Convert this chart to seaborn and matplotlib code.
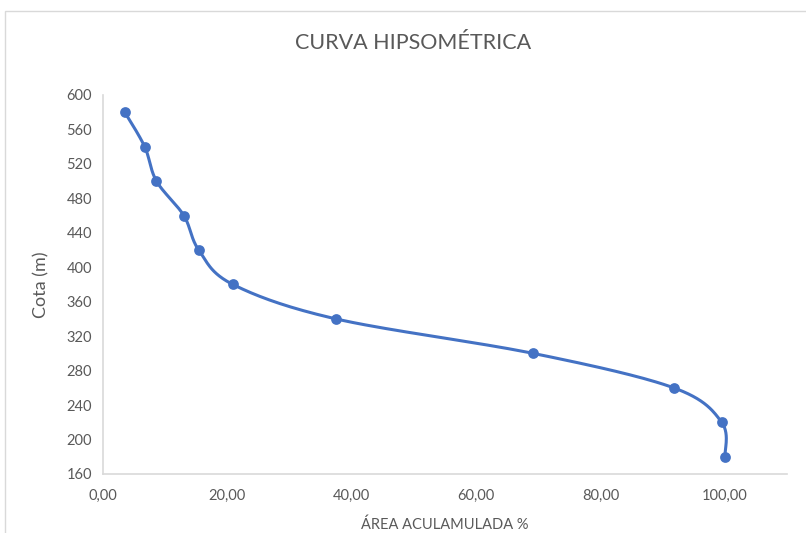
import numpy as np
import pandas as pd
import seaborn as sns
import matplotlib.pyplot as plt
from matplotlib.patches import Rectangle

# datos de la curva hipsométrica
area_acum = [3.5, 6.7, 8.6, 13.0, 15.4, 20.9, 37.5, 69.2, 91.8, 99.5, 100.0]
cota = [580, 540, 500, 460, 420, 380, 340, 300, 260, 220, 180]
x_ticks = [0, 20, 40, 60, 80, 100]
y_ticks = [160, 200, 240, 280, 320, 360, 400, 440, 480, 520, 560, 600]

AZUL = "#4472C4"
GRIS = "#595959"


def suavizar(x, y, sx, sy, n=30):
    # curva suave tipo Excel (Catmull-Rom) calculada en escala de pantalla
    px = np.asarray(x, float) * sx
    py = np.asarray(y, float) * sy
    pts = np.column_stack([px, py])
    out = []
    for i in range(len(pts) - 1):
        p0 = pts[i - 1] if i > 0 else pts[i]
        p1 = pts[i]
        p2 = pts[i + 1]
        p3 = pts[i + 2] if i + 2 < len(pts) else pts[i + 1]
        c1 = p1 + (p2 - p0) / 6
        c2 = p2 - (p3 - p1) / 6
        t = np.linspace(0, 1, n)[:, None]
        b = (1 - t) ** 3 * p1 + 3 * (1 - t) ** 2 * t * c1 + 3 * (1 - t) * t ** 2 * c2 + t ** 3 * p2
        out.append(b)
    out = np.vstack(out)
    return out[:, 0] / sx, out[:, 1] / sy


df = pd.DataFrame({"area": area_acum, "cota": cota})

sns.set_style("white")
plt.rcParams["font.family"] = ["Lato", "DejaVu Sans"]

fig = plt.figure(figsize=(8.06, 5.33), dpi=100)
ax = fig.add_axes([0.1278, 0.1107, 0.8486, 0.7111])

# escala de pixeles por unidad para el suavizado
sx = 684 / 110
sy = 379 / 440
xs, ys = suavizar(df["area"], df["cota"], sx, sy)
ax.plot(xs, ys, color=AZUL, lw=2.2, zorder=2)
sns.scatterplot(data=df, x="area", y="cota", ax=ax, color=AZUL, s=60,
                edgecolor=AZUL, linewidth=0, zorder=3)

ax.set_xlim(0, 110)
ax.set_ylim(160, 600)
ax.set_xticks(x_ticks)
ax.set_yticks(y_ticks)
ax.set_xticklabels([f"{v:.2f}".replace(".", ",") for v in x_ticks])
ax.tick_params(axis="both", length=0, labelsize=10.5, colors=GRIS)
ax.tick_params(axis="x", pad=11)
ax.tick_params(axis="y", pad=8)

for s in ["top", "right"]:
    ax.spines[s].set_visible(False)
for s in ["left", "bottom"]:
    ax.spines[s].set_color("#D9D9D9")
    ax.spines[s].set_linewidth(1.2)

ax.set_xlabel("ÁREA ACULAMULADA %", fontsize=10.5, color=GRIS, labelpad=10)
ax.set_ylabel("Cota (m)", fontsize=13, color=GRIS, labelpad=12)
fig.text(0.513, 0.92, "CURVA HIPSOMÉTRICA", ha="center", va="center",
         fontsize=15.5, color=GRIS)

fig.patches.append(Rectangle((5 / 806, -0.01), 1.0, 1 - 11 / 533 + 0.01,
                             transform=fig.transFigure, fill=False,
                             edgecolor="#D9D9D9", lw=1))

plt.savefig("out.png", dpi=100)
